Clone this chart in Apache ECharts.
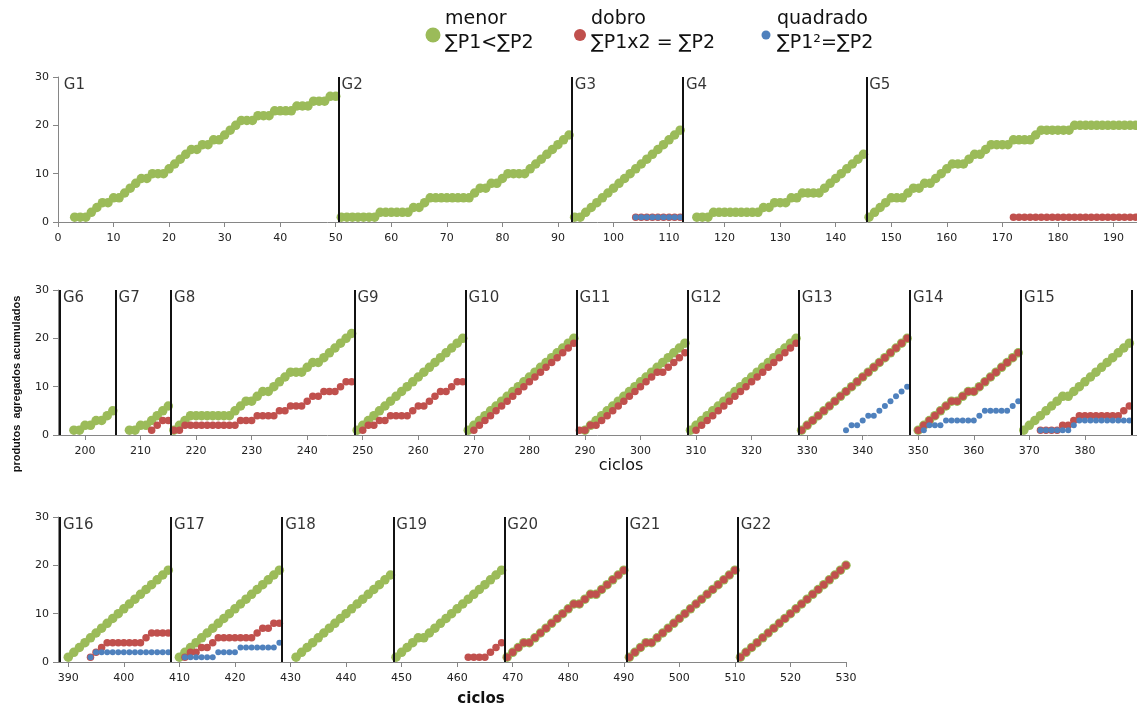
<!DOCTYPE html>
<html><head><meta charset="utf-8">
<script src="https://cdn.jsdelivr.net/npm/echarts@6/dist/echarts.min.js"></script>
<style>html,body{margin:0;padding:0;background:#fff}#c{width:1137px;height:706px}</style>
</head><body><div id="c"></div>
<script>
// ---- DATA: each segment = [first cycle, cumulative values at consecutive cycles] ----
const menorSegments = [
  [3,   [1,1,1,2,3,4,4,5,5,6,7,8,9,9,10,10,10,11,12,13,14,15,15,16,16,17,17,18,19,20,21,21,21,22,22,22,23,23,23,23,24,24,24,25,25,25,26,26]], // G1
  [51,  [1,1,1,1,1,1,1,2,2,2,2,2,2,3,3,4,5,5,5,5,5,5,5,5,6,7,7,8,8,9,10,10,10,10,11,12,13,14,15,16,17,18]], // G2
  [93,  [1,1,2,3,4,5,6,7,8,9,10,11,12,13,14,15,16,17,18,19]], // G3
  [115, [1,1,1,2,2,2,2,2,2,2,2,2,3,3,4,4,4,5,5,6,6,6,6,7,8,9,10,11,12,13,14]], // G4
  [146, [1,2,3,4,5,5,5,6,7,7,8,8,9,10,11,12,12,12,13,14,14,15,16,16,16,16,17,17,17,17,18,19,19,19,19,19,19,20,20,20,20,20,20,20,20,20,20,20,20]], // G5
  [198, [1,1,2,2,3,3,4,5]], // G6
  [208, [1,1,2,2,3,4,5,6]], // G7
  [216, [1,2,3,4,4,4,4,4,4,4,4,5,6,7,7,8,9,9,10,11,12,13,13,13,14,15,15,16,17,18,19,20,21]], // G8
  [249, [1,2,3,4,5,6,7,8,9,10,11,12,13,14,15,16,17,18,19,20]], // G9
  [269, [1,2,3,4,5,6,7,8,9,10,11,12,13,14,15,16,17,18,19,20]], // G10
  [290, [1,2,3,4,5,6,7,8,9,10,11,12,13,14,15,16,17,18,19]], // G11
  [309, [1,2,3,4,5,6,7,8,9,10,11,12,13,14,15,16,17,18,19,20]], // G12
  [329, [1,2,3,4,5,6,7,8,9,10,11,12,13,14,15,16,17,18,19,20]], // G13
  [350, [1,2,3,4,5,6,7,7,8,9,9,10,11,12,13,14,15,16,17]], // G14
  [369, [1,2,3,4,5,6,7,8,8,9,10,11,12,13,14,15,16,17,18,19]], // G15
  [390, [1,2,3,4,5,6,7,8,9,10,11,12,13,14,15,16,17,18,19]], // G16
  [410, [1,2,3,4,5,6,7,8,9,10,11,12,13,14,15,16,17,18,19]], // G17
  [431, [1,2,3,4,5,6,7,8,9,10,11,12,13,14,15,16,17,18]], // G18
  [449, [1,2,3,4,5,5,6,7,8,9,10,11,12,13,14,15,16,17,18,19]], // G19
  [469, [1,2,3,4,4,5,6,7,8,9,10,11,12,12,13,14,14,15,16,17,18,19]], // G20
  [491, [1,2,3,4,4,5,6,7,8,9,10,11,12,13,14,15,16,17,18,19]], // G21
  [511, [1,2,3,4,5,6,7,8,9,10,11,12,13,14,15,16,17,18,19,20]]  // G22
];
const dobroSegments = [
  [104, [1,1,1,1,1,1,1,1,1]], // G3
  [172, [1,1,1,1,1,1,1,1,1,1,1,1,1,1,1,1,1,1,1,1,1,1,1]], // G5
  [212, [1,2,3,3]], // G7
  [216, [1,1,2,2,2,2,2,2,2,2,2,2,3,3,3,4,4,4,4,5,5,6,6,6,7,8,8,9,9,9,10,11,11]], // G8
  [250, [1,2,2,3,3,4,4,4,4,5,6,6,7,8,9,9,10,11,11]], // G9
  [270, [1,2,3,4,5,6,7,8,9,10,11,12,13,14,15,16,17,18,19]], // G10
  [289, [1,1,2,2,3,4,5,6,7,8,9,10,11,12,13,13,14,15,16,17]], // G11
  [310, [1,2,3,4,5,6,7,8,9,10,11,12,13,14,15,16,17,18,19]], // G12
  [329, [1,2,3,4,5,6,7,8,9,10,11,12,13,14,15,16,17,18,19,20]], // G13
  [350, [1,2,3,4,5,6,7,7,8,9,9,10,11,12,13,14,15,16,17]], // G14
  [372, [1,1,1,1,2,2,3,4,4,4,4,4,4,4,4,5,6]], // G15
  [394, [1,2,3,4,4,4,4,4,4,4,5,6,6,6,6]], // G16
  [411, [1,2,2,3,3,4,5,5,5,5,5,5,5,6,7,7,8,8]], // G17
  [462, [1,1,1,1,2,3,4]], // G19
  [469, [1,2,3,4,4,5,6,7,8,9,10,11,12,12,13,14,14,15,16,17,18,19]], // G20
  [491, [1,2,3,4,4,5,6,7,8,9,10,11,12,13,14,15,16,17,18,19]], // G21
  [511, [1,2,3,4,5,6,7,8,9,10,11,12,13,14,15,16,17,18,19,20]]  // G22
];
const quadradoSegments = [
  [104, [1,1,1,1,1,1,1,1,1]], // G3
  [337, [1,2,2,3,4,4,5,6,7,8,9,10]], // G13
  [351, [1,2,2,2,3,3,3,3,3,3,4,5,5,5,5,5,6,7]], // G14
  [372, [1,1,1,1,1,1,2,3,3,3,3,3,3,3,3,3,3]], // G15
  [394, [1,2,2,2,2,2,2,2,2,2,2,2,2,2,2]], // G16
  [411, [1,1,1,1,1,1,2,2,2,2,3,3,3,3,3,3,3,4]]  // G17
];
const groupNames  = ['G1','G2','G3','G4','G5','G6','G7','G8','G9','G10','G11','G12','G13','G14','G15','G16','G17','G18','G19','G20','G21','G22'];
const groupStarts = [0.5,50.5,92.5,112.5,145.5,195.5,205.5,215.5,248.5,268.5,288.5,308.5,328.5,348.5,368.5,388.5,408.5,428.5,448.5,468.5,490.5,510.5];
const groupRow    = [0,0,0,0,0,1,1,1,1,1,1,1,1,1,1,2,2,2,2,2,2,2];
const rowExtraLines = [[], [388.5], []];
const rowTicks = [
  [0,10,20,30,40,50,60,70,80,90,100,110,120,130,140,150,160,170,180,190],
  [200,210,220,230,240,250,260,270,280,290,300,310,320,330,340,350,360,370,380],
  [390,400,410,420,430,440,450,460,470,480,490,500,510,520,530]
];
const seriesNames = ['menor', 'dobro', 'quadrado'];
const legendLine2 = ['∑P1<∑P2', '∑P1x2 = ∑P2', '∑P1²=∑P2'];

// ---- LAYOUT / STYLE ----
const rowRange = [[0,195],[195,389],[389,600]];
const axisMin = [0, 195.14, 388.15];
const axisMax = [194.24, 389.38, 530];
const grids = [
  {left:58, top:77, width:1079, height:145},
  {left:58, top:290, width:1079, height:145},
  {left:58, top:517, width:788, height:145}
];
const colors = ['#9BBB59', '#C0504D', '#4F81BD'];
const sizes = [9.5, 7.5, 6];
const FONT = 'DejaVu Sans';
const axisColor = '#868686';

function expand(segs, lo, hi) {
  const out = [];
  segs.forEach(([s, vals]) => vals.forEach((v, i) => { const x = s + i; if (x >= lo && x < hi) out.push([x, v]); }));
  return out;
}

const xAxis = [], yAxis = [], series = [];
for (let r = 0; r < 3; r++) {
  xAxis.push({
    type:'value', gridIndex:r, min:axisMin[r], max:axisMax[r],
    axisLine:{show:true, onZero:false, lineStyle:{color:axisColor, width:1}},
    axisTick:{show:true, length:5, inside:false, customValues:rowTicks[r], lineStyle:{color:axisColor}},
    axisLabel:{show:true, customValues:rowTicks[r], color:'#222', fontFamily:FONT, fontSize:11, margin:11},
    splitLine:{show:false}
  });
  yAxis.push({
    type:'value', gridIndex:r, min:0, max:30, interval:10,
    axisLine:{show:true, lineStyle:{color:axisColor, width:1}},
    axisTick:{show:true, length:5, lineStyle:{color:axisColor}},
    axisLabel:{color:'#222', fontFamily:FONT, fontSize:11, margin:9},
    splitLine:{show:false}
  });
  [menorSegments, dobroSegments, quadradoSegments].forEach((segs, k) => {
    series.push({
      name: seriesNames[k], type:'scatter', xAxisIndex:r, yAxisIndex:r,
      data: expand(segs, rowRange[r][0], rowRange[r][1]),
      symbol:'circle', symbolSize:sizes[k], z:2 + k, silent:true, animation:false,
      itemStyle:{color:colors[k], opacity:1}
    });
  });
  const lines = groupStarts.filter((v, i) => i > 0 && groupRow[i] === r).concat(rowExtraLines[r]);
  const labels = groupNames.map((n, i) => [groupStarts[i], 30, n]).filter((d, i) => groupRow[i] === r);
  series.push({
    type:'scatter', xAxisIndex:r, yAxisIndex:r, data:labels, symbolSize:0, silent:true, animation:false, clip:false, z:10,
    label:{show:true, position:'right', distance:3, offset:[0,8], formatter:p => p.data[2], color:'#000', fontFamily:FONT, fontSize:15},
    markLine:{silent:true, animation:false, symbol:'none', label:{show:false},
      lineStyle:{color:'#111', width:2, type:'solid'}, emphasis:{disabled:true},
      data: lines.map(v => ({xAxis:v}))}
  });
}

// legend & titles as graphic text
const legendItems = [
  {cx:433, r:7.5, tx:445},
  {cx:580, r:6, tx:591},
  {cx:766, r:4.5, tx:777}
];
const graphic = [];
legendItems.forEach((it, k) => {
  graphic.push({type:'circle', shape:{cx:it.cx, cy:35, r:it.r}, style:{fill:colors[k]}, silent:true});
  graphic.push({type:'text', x:it.tx, y:19, style:{text:seriesNames[k], font:'19px "DejaVu Sans"', fill:'#111', align:'left', verticalAlign:'middle', textAlign:'left', textVerticalAlign:'middle'}, silent:true});
  graphic.push({type:'text', x:it.tx, y:43, style:{text:legendLine2[k], font:'19px "DejaVu Sans"', fill:'#111', align:'left', verticalAlign:'middle', textAlign:'left', textVerticalAlign:'middle'}, silent:true});
});
graphic.push({type:'text', x:17, y:384, rotation:Math.PI/2, style:{text:'produtos  agregados acumulados', font:'bold 11px "Liberation Sans"', fill:'#111', align:'center', verticalAlign:'middle', textAlign:'center', textVerticalAlign:'middle'}, silent:true});
graphic.push({type:'text', x:621, y:466, style:{text:'ciclos', font:'16px "DejaVu Sans"', fill:'#111', align:'center', verticalAlign:'middle', textAlign:'center', textVerticalAlign:'middle'}, silent:true});
graphic.push({type:'text', x:481, y:699, style:{text:'ciclos', font:'bold 15px "DejaVu Sans"', fill:'#111', align:'center', verticalAlign:'middle', textAlign:'center', textVerticalAlign:'middle'}, silent:true});

const chart = echarts.init(document.getElementById('c'));
chart.setOption({
  animation:false,
  backgroundColor:'#fff',
  grid: grids,
  xAxis, yAxis, series, graphic
});
</script>
</body></html>
